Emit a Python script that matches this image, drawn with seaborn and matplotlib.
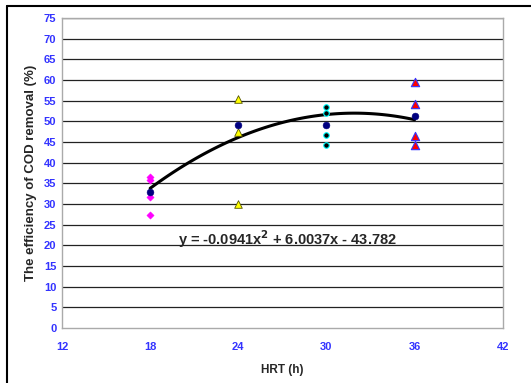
import numpy as np
import pandas as pd
import matplotlib.pyplot as plt
import seaborn as sns

# data
hrt_18 = [18, 18, 18, 18]
cod_18 = [36.5, 35.8, 31.7, 27.4]
hrt_24 = [24, 24, 24]
cod_24 = [55.3, 47.3, 29.9]
hrt_30 = [30, 30, 30, 30]
cod_30 = [53.5, 51.9, 46.7, 44.3]
hrt_36 = [36, 36, 36, 36]
cod_36 = [59.4, 54.1, 46.5, 44.3]
mean_hrt = [18, 24, 30, 36]
mean_cod = [33.0, 49.0, 49.2, 51.3]
fit_coef = [-0.0941, 6.0037, -43.782]

x_ticks = [12, 18, 24, 30, 36, 42]
y_ticks = list(range(0, 80, 5))

sns.set_style('white')
plt.rcParams['font.family'] = ['Liberation Sans', 'DejaVu Sans']

fig = plt.figure(figsize=(5.31, 3.83), dpi=100)
ax = fig.add_axes([0.1168, 0.1436, 0.8300, 0.8094])

for y in y_ticks[1:]:
    ax.axhline(y, color='#222222', lw=0.9, zorder=0)

# fitted polynomial
xf = np.linspace(18, 36, 100)
yf = np.polyval(fit_coef, xf)
sns.lineplot(x=xf, y=yf, ax=ax, color='black', lw=2.2, zorder=2)

sns.scatterplot(x=hrt_18, y=cod_18, ax=ax, marker='D', s=14, color='#FF00FF',
                edgecolor='#FF00FF', zorder=3)
sns.scatterplot(x=hrt_24, y=cod_24, ax=ax, marker='^', s=30, color='#FFFF00',
                edgecolor='#555500', linewidth=0.6, zorder=3)
sns.scatterplot(x=hrt_30, y=cod_30, ax=ax, marker='o', s=16, color='black',
                edgecolor='#00FFFF', linewidth=0.8, zorder=3)
sns.scatterplot(x=hrt_36, y=cod_36, ax=ax, marker='^', s=36, color='#FF0000',
                edgecolor='#3333FF', linewidth=0.8, zorder=3)
sns.scatterplot(x=mean_hrt, y=mean_cod, ax=ax, marker='o', s=24, color='#000080',
                edgecolor='#000080', zorder=4)

ax.set_xlim(12, 42)
ax.set_ylim(0, 75)
ax.set_xticks(x_ticks)
ax.set_yticks(y_ticks)
ax.tick_params(axis='both', direction='out', length=3, width=0.8, color='#888888',
               labelsize=8, labelcolor='#3333FF', pad=2)
ax.tick_params(axis='y', pad=1)
for lab in ax.get_xticklabels() + ax.get_yticklabels():
    lab.set_fontweight('bold')
ax.xaxis.set_tick_params(pad=7)

for s in ax.spines.values():
    s.set_color('#AAAAAA')
    s.set_linewidth(1.0)

ax.set_xlabel('HRT (h)', fontsize=8.5, fontweight='bold', labelpad=9)
ax.set_ylabel('The efficiency of COD removal (%)', fontsize=9.5, fontweight='bold', labelpad=5)

ax.text(19.9, 21.6, 'y = -0.0941x$^{\\mathbf{2}}$ + 6.0037x - 43.782', fontsize=10.5,
        fontweight='bold', va='center', ha='left')

# outer frame of the original chart
fig.add_artist(plt.Line2D([7 / 531, 7 / 531], [0, 1 - 6 / 383], transform=fig.transFigure,
                          color='black', lw=1.5))
fig.add_artist(plt.Line2D([7 / 531, 1], [1 - 6 / 383, 1 - 6 / 383], transform=fig.transFigure,
                          color='black', lw=1.5))

fig.savefig('out.png', dpi=100)
